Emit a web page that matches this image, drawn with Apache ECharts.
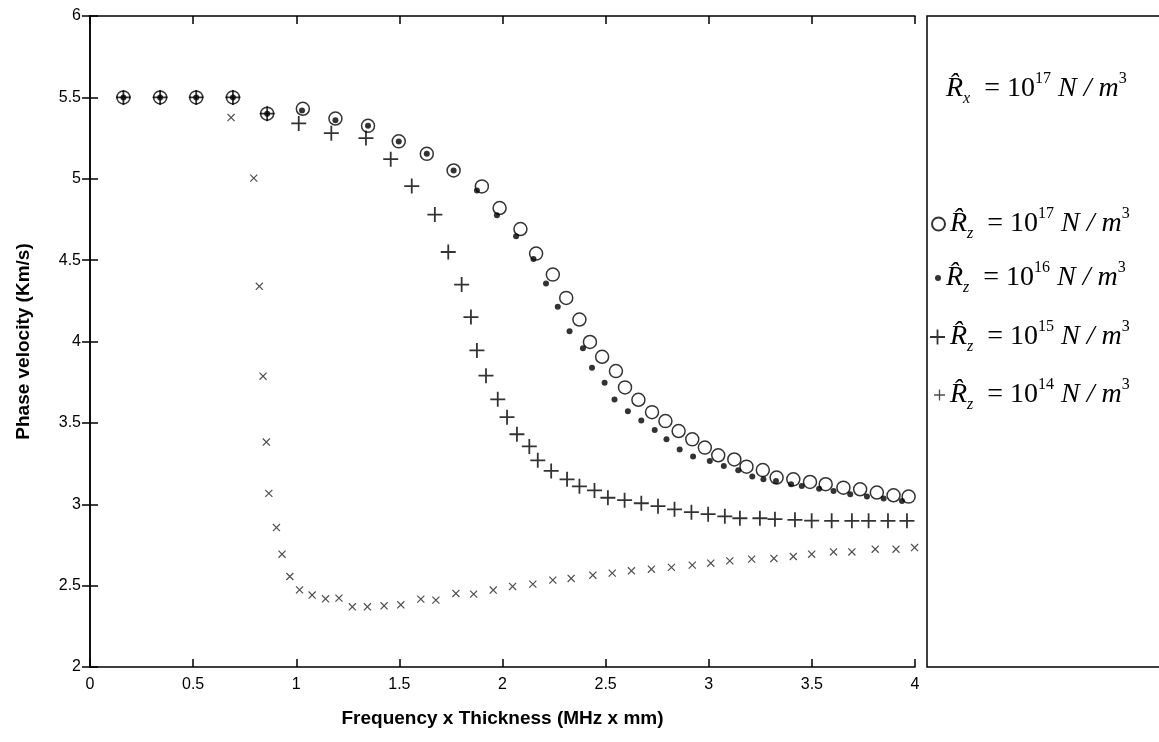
<!DOCTYPE html>
<html>
<head>
<meta charset="utf-8">
<script src="https://cdn.jsdelivr.net/npm/echarts@6/dist/echarts.min.js"></script>
<style>
html,body{margin:0;padding:0;background:#fff;}
#chart{width:1159px;height:742px;}
</style>
</head>
<body>
<div id="chart"></div>
<script>
// ---- data (Frequency x Thickness in MHz x mm, Phase velocity in Km/s) ----
const xTicks = [0, 0.5, 1, 1.5, 2, 2.5, 3, 3.5, 4];
const yTicks = [2, 2.5, 3, 3.5, 4, 4.5, 5, 5.5, 6];

const fd17 = [0.162,0.340,0.515,0.693,0.859,1.032,1.190,1.348,1.497,1.633,1.763,1.900,1.986,2.087,2.163,2.244,2.309,2.373,2.424,2.483,2.550,2.594,2.659,2.725,2.790,2.854,2.920,2.981,3.046,3.124,3.183,3.262,3.329,3.410,3.491,3.567,3.653,3.734,3.815,3.896,3.969];
const v17  = [5.50,5.50,5.50,5.50,5.40,5.43,5.37,5.325,5.23,5.153,5.051,4.953,4.82,4.691,4.54,4.411,4.268,4.135,3.997,3.906,3.818,3.718,3.642,3.566,3.511,3.450,3.399,3.348,3.301,3.275,3.231,3.210,3.164,3.153,3.137,3.123,3.102,3.092,3.072,3.055,3.047];

const fd16 = [0.162,0.340,0.515,0.693,0.859,1.028,1.190,1.348,1.497,1.633,1.763,1.876,1.973,2.066,2.150,2.211,2.268,2.325,2.390,2.434,2.495,2.543,2.608,2.673,2.738,2.795,2.859,2.924,3.005,3.073,3.143,3.211,3.265,3.326,3.399,3.451,3.535,3.605,3.686,3.767,3.848,3.937];
const v16  = [5.50,5.50,5.50,5.50,5.40,5.42,5.36,5.325,5.229,5.153,5.051,4.928,4.775,4.646,4.507,4.356,4.213,4.063,3.958,3.839,3.747,3.644,3.572,3.515,3.456,3.399,3.337,3.293,3.266,3.235,3.209,3.170,3.153,3.143,3.123,3.112,3.096,3.082,3.061,3.047,3.035,3.020];

const fd15 = [0.162,0.340,0.515,0.693,0.859,1.012,1.170,1.338,1.458,1.560,1.672,1.737,1.802,1.847,1.876,1.920,1.977,2.022,2.070,2.130,2.171,2.236,2.313,2.373,2.446,2.511,2.592,2.673,2.754,2.834,2.916,2.997,3.078,3.151,3.248,3.321,3.418,3.499,3.596,3.694,3.775,3.869,3.961];
const v15  = [5.50,5.50,5.50,5.50,5.40,5.34,5.28,5.25,5.12,4.955,4.78,4.55,4.35,4.15,3.945,3.79,3.645,3.535,3.43,3.355,3.27,3.205,3.153,3.11,3.085,3.04,3.025,3.006,2.988,2.969,2.951,2.939,2.926,2.914,2.914,2.908,2.904,2.899,2.898,2.898,2.898,2.898,2.898];

const fd14 = [0.684,0.794,0.821,0.839,0.855,0.867,0.904,0.931,0.969,1.016,1.077,1.142,1.207,1.272,1.345,1.426,1.507,1.604,1.677,1.774,1.860,1.955,2.049,2.147,2.244,2.333,2.438,2.532,2.625,2.722,2.819,2.920,3.010,3.102,3.208,3.316,3.410,3.499,3.605,3.694,3.807,3.908,3.998];
const v14  = [5.376,5.004,4.339,3.787,3.382,3.067,2.857,2.693,2.556,2.474,2.442,2.419,2.423,2.370,2.370,2.376,2.382,2.417,2.411,2.452,2.448,2.473,2.495,2.509,2.534,2.544,2.564,2.577,2.591,2.601,2.612,2.626,2.638,2.652,2.663,2.667,2.679,2.693,2.707,2.707,2.724,2.724,2.734];

const zip = (a, b) => a.map((v, i) => [v, b[i]]);

const PLUS = 'path://M6.6,0h1.8v15h-1.8z M0,6.6h15v1.8h-15z';
const CROSS = 'path://M4.4,0h1.2v10h-1.2z M0,4.4h10v1.2h-10z';

const serif = '"Liberation Serif","DejaVu Serif",serif';
const LH = 36;
const rich = {
  R:   {fontFamily: serif, fontStyle: 'italic', fontSize: 28, color: '#000', lineHeight: LH},
  sub: {fontFamily: serif, fontStyle: 'italic', fontSize: 16, color: '#000', verticalAlign: 'bottom', lineHeight: LH},
  n:   {fontFamily: serif, fontSize: 28, color: '#000', lineHeight: LH},
  sup: {fontFamily: serif, fontSize: 16, color: '#000', verticalAlign: 'top', lineHeight: LH},
  i:   {fontFamily: serif, fontStyle: 'italic', fontSize: 28, color: '#000', lineHeight: LH}
};
const labelFor = (sub, exp) => '{R|R\u0302}{sub|' + sub + '}{n|  = 10}{sup|' + exp + '}{i| N / m}{sup|3}';
const exps = {Rz17: '17', Rz16: '16', Rz15: '15', Rz14: '14'};

const chart = echarts.init(document.getElementById('chart'), null, {renderer: 'canvas'});

const axisLine = {show: true, lineStyle: {color: '#000', width: 1.5}};
const tickIn = {show: true, inside: true, length: 8, lineStyle: {color: '#000', width: 1.5}};
const sans = '"Liberation Sans", Arial, sans-serif';

function mkLegend(name, centerY, w, h, left) {
  return {
    data: [name], orient: 'vertical', left: left, top: centerY - LH / 2,
    itemWidth: w, itemHeight: h, padding: 0,
    formatter: n => labelFor('z', exps[n]),
    textStyle: {rich: rich},
    selectedMode: false
  };
}

chart.setOption({
  animation: false,
  backgroundColor: '#fff',
  grid: {left: 90, top: 16, right: 244, bottom: 75, show: false},
  xAxis: [
    {type: 'value', min: xTicks[0], max: xTicks[xTicks.length - 1], interval: 0.5,
     axisLine: axisLine, axisTick: tickIn, splitLine: {show: false},
     axisLabel: {color: '#000', fontSize: 16, fontFamily: sans, margin: 10},
     name: 'Frequency x Thickness (MHz x mm)', nameLocation: 'middle', nameGap: 42,
     nameTextStyle: {color: '#000', fontSize: 19, fontWeight: 'bold', fontFamily: sans}},
    {type: 'value', position: 'top', min: xTicks[0], max: xTicks[xTicks.length - 1], interval: 0.5,
     axisLine: axisLine, axisTick: tickIn, axisLabel: {show: false}, splitLine: {show: false}}
  ],
  yAxis: [
    {type: 'value', min: yTicks[0], max: yTicks[yTicks.length - 1], interval: 0.5,
     axisLine: axisLine, axisTick: tickIn, splitLine: {show: false},
     axisLabel: {color: '#000', fontSize: 16, fontFamily: sans, margin: 9},
     name: 'Phase velocity (Km/s)', nameLocation: 'middle', nameGap: 57,
     nameTextStyle: {color: '#000', fontSize: 19, fontWeight: 'bold', fontFamily: sans}},
    {type: 'value', position: 'right', min: yTicks[0], max: yTicks[yTicks.length - 1], interval: 0.5,
     axisLine: axisLine, axisTick: tickIn, axisLabel: {show: false}, splitLine: {show: false}}
  ],
  legend: [
    mkLegend('Rz17', 224, 13, 13, 931),
    mkLegend('Rz16', 278, 6, 6, 935),
    mkLegend('Rz15', 337, 15, 15, 930),
    mkLegend('Rz14', 395, 11, 11, 934)
  ],
  graphic: [
    {type: 'rect', shape: {x: 927, y: 16, width: 260, height: 651},
     style: {fill: 'none', stroke: '#000', lineWidth: 1.5}, silent: true},
    {type: 'text', left: 946, top: 89 - LH / 2,
     style: {text: '{R|R\u0302}{sub|x}{n|  = 10}{sup|17}{i| N / m}{sup|3}', rich: rich}}
  ],
  series: [
    {name: 'Rz17', type: 'scatter', data: zip(fd17, v17), symbol: 'circle', symbolSize: 13,
     itemStyle: {color: 'rgba(255,255,255,0)', borderColor: '#000', borderWidth: 1.5}, z: 2},
    {name: 'Rz16', type: 'scatter', data: zip(fd16, v16), symbol: 'circle', symbolSize: 6,
     itemStyle: {color: '#000'}, z: 3},
    {name: 'Rz15', type: 'scatter', data: zip(fd15, v15), symbol: PLUS, symbolSize: 15,
     itemStyle: {color: '#000'}, z: 4},
    {name: 'Rz14', type: 'scatter', data: zip(fd14, v14), symbol: CROSS, symbolSize: 10, symbolRotate: 45,
     itemStyle: {color: '#222'}, z: 4}
  ]
});
</script>
</body>
</html>
